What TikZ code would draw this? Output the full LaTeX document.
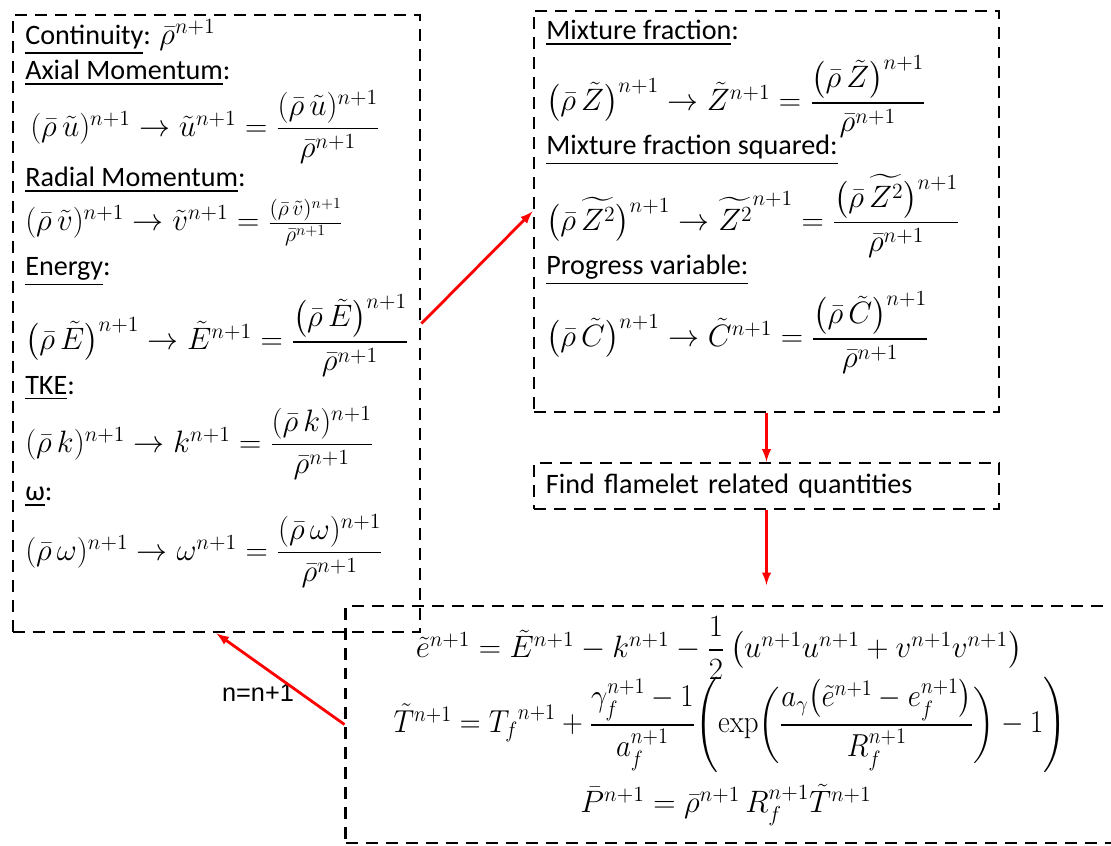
\RequirePackage{fix-cm}
\documentclass[tikz,border=0pt]{standalone}
\usepackage{amsmath,amssymb,graphicx}
\usepackage[no-math]{fontspec}
\setmainfont{Carlito}
\newfontfamily\arialfont{Liberation Sans}
\usetikzlibrary{arrows}
\newcommand{\eqsize}{\fontsize{22}{26}\selectfont}

\begin{document}
\begin{tikzpicture}[x=0.025cm, y=-0.025cm,
  box/.style={draw, dash pattern=on 8.5pt off 5.7pt, line width=2pt, inner sep=0pt},
  lbl/.style={anchor=west, inner sep=0pt},
  eq/.style={lbl, font=\eqsize},
  go/.style={->, red, >=latex, line width=2pt},
  font=\fontsize{20}{24}\selectfont]
\useasboundingbox (0,0) rectangle (1111,846);

% boxes
\node[box, minimum width=10.175cm, minimum height=15.425cm] (lbox) at (216.5,323.5) {};
\node[box, minimum width=11.625cm, minimum height=10.025cm] (rbox) at (766.5,211.5) {};
\node[box, minimum width=11.625cm, minimum height=1.15cm, text width=11.025cm, align=left, inner xsep=0.3cm] (flame) at (766.5,486) {Find flamelet related quantities};
\node[box, minimum width=19.475cm, minimum height=5.925cm] (bbox) at (735.5,724.5) {};

% left box
\node[lbl] (cont) at (25,37) {\underline{Continuity}: {\eqsize$\bar\rho^{n+1}$}};
\node[lbl] (axial) at (25,73) {\underline{Axial Momentum}:};
\node[eq] (equ) at (30,127) {$(\bar\rho\,\tilde u)^{n+1} \rightarrow \tilde u^{n+1} = \dfrac{(\bar\rho\,\tilde u)^{n+1}}{\bar\rho^{n+1}}$};
\node[lbl] (radial) at (25,180) {\underline{Radial Momentum}:};
\node[eq] (eqv) at (25,222) {$(\bar\rho\,\tilde v)^{n+1} \rightarrow \tilde v^{n+1} = \frac{(\bar\rho\,\tilde v)^{n+1}}{\bar\rho^{n+1}}$};
\node[lbl] (energy) at (25,272) {\underline{Energy}:};
\node[eq] (eqE) at (25,336) {$\bigl(\bar\rho\,\tilde E\bigr)^{n+1} \rightarrow \tilde E^{n+1} = \dfrac{\bigl(\bar\rho\,\tilde E\bigr)^{n+1}}{\bar\rho^{n+1}}$};
\node[lbl] (tke) at (25,388) {\underline{TKE}:};
\node[eq] (eqk) at (25,443) {$(\bar\rho\,k)^{n+1} \rightarrow k^{n+1} = \dfrac{(\bar\rho\,k)^{n+1}}{\bar\rho^{n+1}}$};
\node[lbl] (omega) at (25,497) {\underline{ω}:};
\node[eq] (eqw) at (25,551) {$(\bar\rho\,\omega)^{n+1} \rightarrow \omega^{n+1} = \dfrac{(\bar\rho\,\omega)^{n+1}}{\bar\rho^{n+1}}$};

% right box
\node[lbl] (mixfrac) at (546,33) {\underline{Mixture fraction}:};
\node[eq] (eqZ) at (546,97) {$\bigl(\bar\rho\,\tilde Z\bigr)^{n+1} \rightarrow \tilde Z^{n+1} = \dfrac{\bigl(\bar\rho\,\tilde Z\bigr)^{n+1}}{\bar\rho^{n+1}}$};
\node[lbl] (mixsq) at (546,150) {\underline{Mixture fraction squared:}};
\node[eq] (eqZZ) at (546,216) {$\bigl(\bar\rho\,\widetilde{Z^2}\bigr)^{n+1} \rightarrow \widetilde{Z^2}^{n+1} = \dfrac{\bigl(\bar\rho\,\widetilde{Z^2}\bigr)^{n+1}}{\bar\rho^{n+1}}$};
\node[lbl] (prog) at (546,270) {\underline{Progress variable:}};
\node[eq] (eqC) at (546,333) {$\bigl(\bar\rho\,\tilde C\bigr)^{n+1} \rightarrow \tilde C^{n+1} = \dfrac{\bigl(\bar\rho\,\tilde C\bigr)^{n+1}}{\bar\rho^{n+1}}$};

% bottom box
\node[eq, anchor=center, font=\fontsize{22}{26}\selectfont] (eqe) at (719,648) {$\tilde e^{n+1} = \tilde E^{n+1} - k^{n+1} - \dfrac{1}{2}\left(u^{n+1}u^{n+1} + v^{n+1}v^{n+1}\right)$};
\node[eq, anchor=center, font=\fontsize{22.6}{27}\selectfont] (eqT) at (730,725) {\scalebox{0.91}[1]{$\tilde T^{n+1} = {T_f}^{n+1} + \dfrac{\gamma_f^{n+1}-1}{a_f^{n+1}}\Biggl(\exp\biggl(\dfrac{a_\gamma\bigl(\tilde e^{n+1} - e_f^{n+1}\bigr)}{R_f^{n+1}}\biggr) - 1\Biggr)$}};
\node[eq, anchor=center, font=\fontsize{22}{26}\selectfont] (eqP) at (726,805) {$\bar P^{n+1} = \bar\rho^{n+1}\,R_f^{n+1}\tilde T^{n+1}$};

\node[inner sep=0pt, font=\arialfont\fontsize{18}{20}\selectfont] (step) at (258,693) {n=n+1};

% arrows
\path[go] (lbox.east) edge (rbox.west);
\path[go] (rbox.south) edge (flame.north);
\path[go, shorten >=14] (flame.south) edge (flame.south |- bbox.north);
\path[go] (bbox.west) edge (lbox.south);
\end{tikzpicture}
\end{document}
